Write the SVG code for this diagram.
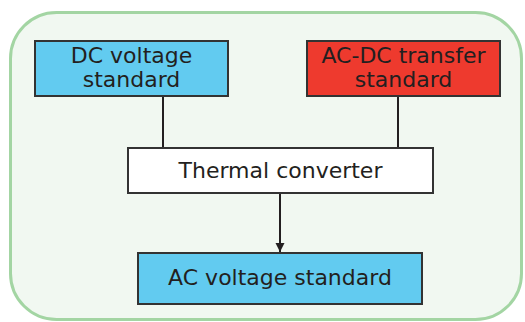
<svg xmlns="http://www.w3.org/2000/svg" width="525" height="322" viewBox="0 0 525 322">
<defs>
<marker id="arr" markerWidth="10" markerHeight="10" refX="9" refY="5" orient="auto" markerUnits="userSpaceOnUse">
<path d="M0,0.5 L9,5 L0,9.5 Z" fill="#231f20"/>
</marker>
<style>
.box{stroke:#333;stroke-width:2}
.t{font-family:"DejaVu Sans",sans-serif;font-size:22px;fill:#231f20;text-anchor:middle}
.c{stroke:#231f20;stroke-width:2;fill:none}
</style>
</defs>
<rect x="10.5" y="12.5" width="511" height="307" rx="46" ry="46" fill="#f1f8f1" stroke="#a3d5a3" stroke-width="3"/>
<g id="connectors">
<line class="c" x1="163" y1="96" x2="163" y2="148"/>
<line class="c" x1="398" y1="96" x2="398" y2="148"/>
<line class="c" x1="280" y1="193" x2="280" y2="252" marker-end="url(#arr)"/>
</g>
<g id="dc">
<rect class="box" x="35" y="41" width="193" height="55" fill="#62cbf0"/>
<text class="t" x="131.5" y="63">DC voltage</text>
<text class="t" x="131.5" y="87">standard</text>
</g>
<g id="acdc">
<rect class="box" x="307" y="41" width="193" height="55" fill="#ee3a2e"/>
<text class="t" x="403.5" y="63">AC-DC transfer</text>
<text class="t" x="403.5" y="87">standard</text>
</g>
<g id="thermal">
<rect class="box" x="128" y="148" width="305" height="45" fill="#ffffff"/>
<text class="t" x="280.5" y="178">Thermal converter</text>
</g>
<g id="acv">
<rect class="box" x="138" y="253" width="284" height="51" fill="#62cbf0"/>
<text class="t" x="280" y="285">AC voltage standard</text>
</g>
</svg>
